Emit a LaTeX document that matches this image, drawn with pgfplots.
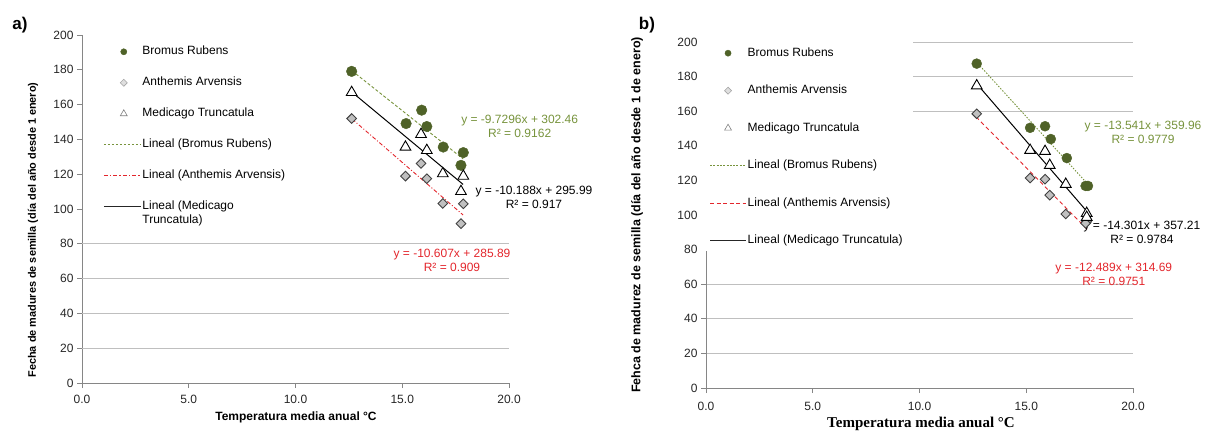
\documentclass[border=0pt]{standalone}
\usepackage{fontspec}
\setmainfont{Liberation Sans}
\newfontfamily\timesfont{Liberation Serif}
\usepackage{pgfplots}
\pgfplotsset{compat=1.18}

\definecolor{brgreen}{HTML}{4F6228}
\definecolor{brline}{HTML}{77933C}
\definecolor{antred}{HTML}{E3262C}
\definecolor{gridc}{HTML}{BFBFBF}
\definecolor{axisc}{HTML}{868686}
\definecolor{diafill}{HTML}{C0C0C0}
\definecolor{ticktext}{HTML}{262626}

\newcommand{\tk}{\fontsize{12bp}{14bp}\selectfont}

\pgfplotsset{
  panel/.style={
    scale only axis, width=427bp,
    xmin=0, xmax=20, ymin=0, ymax=200,
    xtick={0,5,10,15,20}, ytick={0,20,...,200},
    axis x line=bottom, axis y line=left,
    axis line style={-, draw=axisc, line width=0.8bp},
    tick align=outside, major tick length=5bp,
    tick style={draw=axisc, line width=0.8bp},
    xticklabel style={yshift=-4bp, /pgf/number format/.cd, fixed, fixed zerofill, precision=1},
    /pgf/number format/assume math mode=true,
    tick label style={font=\tk, text=ticktext},
    clip=false,
    legend cell align=left,
  },
  brom/.style={only marks, mark=*, mark size=5.3bp, brgreen, mark options={fill=brgreen, draw=brgreen}},
  anth/.style={only marks, mark=square*, mark size=3.4bp, mark options={rotate=45, fill=diafill, draw=black!75, line width=0.9bp}},
  medi/.style={only marks, mark=triangle*, mark size=6.2bp, mark options={fill=white, draw=black, line width=0.9bp}},
  lineimg/.style={legend image code/.code={\draw[##1] (0bp,0bp) -- (#1,0bp);}},
}

\begin{document}
\begin{tikzpicture}
\useasboundingbox (0,0) rectangle (1208bp,435bp);

% ---------------- panel a) ----------------
\node[font=\bfseries\fontsize{17bp}{20bp}\selectfont] at (20bp,410bp) {a)};
\node[rotate=90, font=\bfseries\fontsize{10.9bp}{13bp}\selectfont] at (33bp,205bp)
  {Fecha de madures de semilla (día del año desde 1 enero)};
\node[font=\bfseries\fontsize{12bp}{14bp}\selectfont] at (296bp,18bp)
  {Temperatura media anual °C};

\begin{axis}[panel, at={(82bp,52bp)}, anchor=south west, height=348bp,
  legend style={at={(axis cs:0.98,194.5)}, anchor=north west, draw=none, fill=none,
    inner sep=0pt, row sep=17bp,
    nodes={inner sep=1bp, text height=9bp, text depth=3bp, font=\tk}}]
\pgfplotsinvokeforeach{20,40,60,80}{
  \draw[gridc, line width=0.8bp] (axis cs:0,#1) -- (axis cs:20,#1);
}
\addplot[brom, forget plot] coordinates {
  (12.63,179.1) (15.18,149.1) (15.91,156.8) (16.15,147.4)
  (16.92,135.6) (17.86,132.4) (17.75,125.1)};
\addplot[anth, forget plot] coordinates {
  (12.63,152.0) (15.15,118.9) (15.88,126.2) (16.15,117.4)
  (16.90,103.2) (17.86,103.0) (17.75,91.6)};
\addplot[medi, forget plot] coordinates {
  (12.63,167.0) (15.15,135.6) (15.88,142.9) (16.15,133.7)
  (16.90,120.3) (17.86,118.9) (17.75,110.1)};
% linear trends
\addplot[brline, line width=0.9bp, dash pattern=on 3bp off 2bp, forget plot]
  coordinates {(12.65,179.38) (17.85,128.79)};
\addplot[antred, line width=0.9bp, dash pattern=on 4bp off 2bp on 1bp off 2bp, forget plot]
  coordinates {(12.65,151.71) (17.85,96.56)};
\addplot[black, line width=1bp, forget plot]
  coordinates {(12.65,167.11) (17.85,114.13)};

\node[align=center, font=\tk, text=brline] at (axis cs:20.5,147.7)
  {y = -9.7296x + 302.46\\R² = 0.9162};
\node[align=center, font=\tk, text=black] at (axis cs:21.17,106.9)
  {y = -10.188x + 295.99\\R² = 0.917};
\node[align=center, font=\tk, text=antred] at (axis cs:17.33,70.7)
  {y = -10.607x + 285.89\\R² = 0.909};

\addlegendimage{legend image code/.code={\path (0,0) (37bp,0);
  \fill[brgreen] (20bp,0) circle (3.1bp);}}
\addlegendentry{Bromus Rubens}
\addlegendimage{legend image code/.code={\path (0,0) (37bp,0);
  \draw[mark=square*, mark size=2.5bp, mark options={rotate=45, fill=gray!25, draw=gray!70, line width=0.6bp}] plot coordinates {(20bp,0)};}}
\addlegendentry{Anthemis Arvensis}
\addlegendimage{legend image code/.code={\path (0,0) (37bp,0);
  \draw[mark=triangle, mark size=4bp, mark options={draw=gray, line width=0.6bp}] plot coordinates {(20bp,0)};}}
\addlegendentry{Medicago Truncatula}
\addlegendimage{brline, line width=1.3bp, dash pattern=on 2.5bp off 1.5bp, lineimg=37bp}
\addlegendentry{Lineal (Bromus Rubens)}
\addlegendimage{antred, line width=1.3bp, dash pattern=on 4bp off 2bp on 1.5bp off 2bp, lineimg=37bp}
\addlegendentry{Lineal (Anthemis Arvensis)}
\addlegendimage{black!85, line width=1.3bp, lineimg=37bp}
\addlegendentry{\vtop{\hbox{Lineal (Medicago}\hbox{Truncatula)}}}
\end{axis}

% ---------------- panel b) ----------------
\node[font=\bfseries\fontsize{17bp}{20bp}\selectfont] at (647bp,410bp) {b)};
\node[rotate=90, font=\bfseries\fontsize{12.5bp}{14bp}\selectfont] at (637bp,220bp)
  {Fehca de madurez de semilla (día del año desde 1 de enero)};
\node[font=\timesfont\bfseries\fontsize{15bp}{17bp}\selectfont] at (921bp,11bp)
  {Temperatura media anual °C};

\begin{axis}[panel, at={(706bp,47bp)}, anchor=south west, height=346bp,
  y axis line style={draw=none}, ytick style={draw=none},
  xticklabel style={/tikz/yshift=-2bp},
  legend style={at={(axis cs:0.15,197.7)}, anchor=north west, draw=none, fill=none,
    inner sep=0pt, row sep=23.5bp,
    nodes={inner sep=1bp, text height=9bp, text depth=3bp, font=\tk}}]
\pgfplotsinvokeforeach{20,40,60}{
  \draw[gridc, line width=0.8bp] (axis cs:0,#1) -- (axis cs:20,#1);
}
\pgfplotsinvokeforeach{160,180,200}{
  \draw[gridc, line width=0.8bp] (axis cs:9.7,#1) -- (axis cs:20,#1);
}
\draw[axisc, line width=0.8bp] (axis cs:0,0) -- (axis cs:0,79);
\pgfplotsinvokeforeach{0,20,40,60}{
  \draw[axisc, line width=0.8bp] (axis cs:0,#1) -- ++(-5bp,0);
}
\addplot[brom, mark size=5bp, forget plot] coordinates {
  (12.68,187.5) (15.18,150.4) (15.88,151.3) (16.15,143.9)
  (16.90,132.9) (17.78,116.8) (17.89,116.8)};
\addplot[anth, forget plot] coordinates {
  (12.68,158.5) (15.18,121.4) (15.88,120.7) (16.10,111.5)
  (16.85,100.6) (17.83,96.1) (17.78,95.2)};
\addplot[medi, forget plot] coordinates {
  (12.68,174.7) (15.18,137.4) (15.88,136.8) (16.10,128.7)
  (16.85,117.8) (17.83,101.0) (17.83,98.7)};
% linear trends
\addplot[brline, line width=0.9bp, dash pattern=on 1.5bp off 1.5bp, forget plot]
  coordinates {(12.65,188.67) (17.85,118.25)};
\addplot[antred, line width=0.9bp, dash pattern=on 4bp off 3bp, forget plot]
  coordinates {(12.65,156.70) (17.85,91.76)};
\addplot[black, line width=1bp, forget plot]
  coordinates {(12.65,176.30) (17.85,101.94)};

\node[align=center, font=\tk, text=brline] at (axis cs:20.47,147.8)
  {y = -13.541x + 359.96\\R² = 0.9779};
\node[align=center, font=\tk, text=black] at (axis cs:20.42,90)
  {y = -14.301x + 357.21\\R² = 0.9784};
\node[align=center, font=\tk, text=antred] at (axis cs:19.1,65.9)
  {y = -12.489x + 314.69\\R² = 0.9751};

\addlegendimage{legend image code/.code={\path (0,0) (36bp,0);
  \fill[brgreen] (18bp,0) circle (3.1bp);}}
\addlegendentry{Bromus Rubens}
\addlegendimage{legend image code/.code={\path (0,0) (36bp,0);
  \draw[mark=square*, mark size=2.5bp, mark options={rotate=45, fill=gray!25, draw=gray!70, line width=0.6bp}] plot coordinates {(18bp,0)};}}
\addlegendentry{Anthemis Arvensis}
\addlegendimage{legend image code/.code={\path (0,0) (36bp,0);
  \draw[mark=triangle, mark size=4bp, mark options={draw=gray, line width=0.6bp}] plot coordinates {(18bp,0)};}}
\addlegendentry{Medicago Truncatula}
\addlegendimage{brline, line width=1.3bp, dash pattern=on 2bp off 1.3bp, lineimg=36bp}
\addlegendentry{Lineal (Bromus Rubens)}
\addlegendimage{antred, line width=1.3bp, dash pattern=on 4bp off 2.5bp, lineimg=36bp}
\addlegendentry{Lineal (Anthemis Arvensis)}
\addlegendimage{black!85, line width=1.3bp, lineimg=36bp}
\addlegendentry{Lineal (Medicago Truncatula)}
\end{axis}
\end{tikzpicture}
\end{document}
